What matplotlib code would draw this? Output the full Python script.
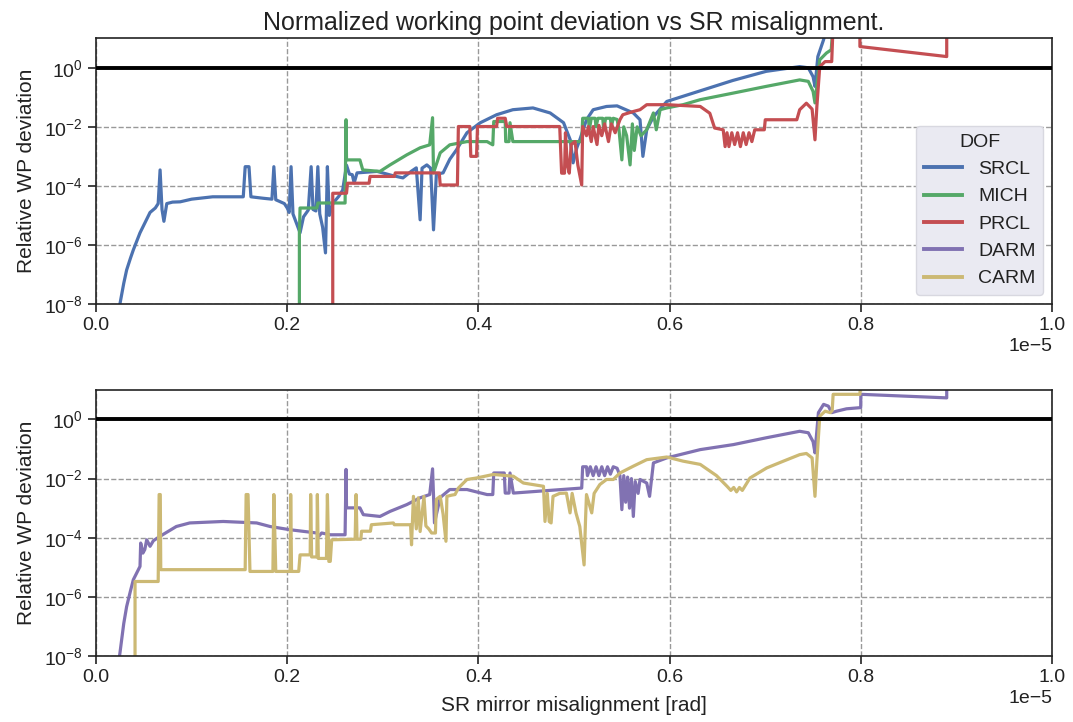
import numpy as np
import matplotlib
matplotlib.use("Agg")
import matplotlib.pyplot as plt
from matplotlib.lines import Line2D
from matplotlib.ticker import LogLocator, NullLocator

# values: x in units of 1e-5 rad, y as log10 of the relative deviation
srcl_x = [0.020, 0.025, 0.029, 0.032, 0.036, 0.039, 0.046, 0.0565, 0.062, 0.065, 0.067, 0.069, 0.071, 0.074,
          0.080, 0.088, 0.100, 0.122, 0.154, 0.156, 0.160, 0.162, 0.175, 0.184, 0.186, 0.188, 0.197, 0.200,
          0.202, 0.204, 0.206, 0.2134, 0.217, 0.222, 0.225, 0.227, 0.230, 0.232, 0.234, 0.237, 0.240, 0.242,
          0.244, 0.248, 0.254, 0.258, 0.262, 0.265, 0.268, 0.270, 0.273, 0.294, 0.310, 0.321, 0.330, 0.335,
          0.339, 0.341, 0.346, 0.350, 0.353, 0.356, 0.363, 0.370, 0.377, 0.388, 0.402, 0.419, 0.436, 0.457,
          0.475, 0.489, 0.496, 0.499, 0.503, 0.506, 0.513, 0.520, 0.534, 0.545, 0.562, 0.569, 0.572, 0.576,
          0.583, 0.597, 0.632, 0.666, 0.701, 0.736, 0.745, 0.750, 0.752, 0.755, 0.761, 0.765]
srcl_e = [-9, -8.0, -7.3, -6.85, -6.45, -6.17, -5.59, -4.9, -4.75, -4.6, -3.46, -4.8, -5.2, -4.6,
          -4.55, -4.54, -4.45, -4.37, -4.37, -3.35, -3.35, -4.37, -4.42, -4.45, -3.35, -4.47, -4.6, -4.75,
          -4.9, -3.35, -4.95, -5.59, -5.05, -4.82, -3.35, -4.8, -4.85, -3.35, -4.95, -5.4, -6.27, -3.35,
          -5.0, -4.58, -4.35, -4.14, -3.3, -3.6, -3.62, -3.9, -3.56, -3.51, -3.65, -3.73, -3.5, -3.39,
          -5.15, -3.4, -3.29, -3.4, -5.49, -3.6, -3.56, -3.1, -2.78, -2.2, -1.86, -1.59, -1.42, -1.36,
          -1.53, -1.86, -2.44, -3.22, -2.7, -2.44, -1.76, -1.42, -1.31, -1.29, -1.53, -1.76, -3.0, -2.1,
          -1.66, -1.14, -0.78, -0.43, -0.12, 0.04, 0.0, -0.3, -0.63, 0.38, 0.95, 1.5]

mich_x = [0.2127, 0.2127, 0.2134, 0.231, 0.232, 0.2605, 0.2615, 0.262, 0.276, 0.279, 0.297, 0.3075, 0.325,
          0.339, 0.349, 0.352, 0.353, 0.360, 0.370, 0.388, 0.409, 0.415, 0.416, 0.428, 0.4285, 0.432, 0.433,
          0.436, 0.508, 0.509, 0.515, 0.516, 0.518, 0.522, 0.523, 0.525, 0.530, 0.531, 0.533, 0.538, 0.539,
          0.541, 0.545, 0.547, 0.550, 0.552, 0.555, 0.5586, 0.561, 0.563, 0.566, 0.570, 0.576, 0.583, 0.586,
          0.590, 0.597, 0.614, 0.632, 0.666, 0.701, 0.736, 0.745, 0.750, 0.752, 0.757, 0.764, 0.769, 0.771]
mich_e = [-9, -5.6, -4.75, -4.75, -4.58, -4.58, -1.76, -3.12, -3.12, -3.46, -3.51, -3.29, -2.95,
          -2.71, -2.61, -1.69, -3.56, -2.88, -2.61, -2.5, -2.5, -2.61, -1.82, -1.82, -2.5, -2.5, -1.86,
          -2.5, -2.5, -1.71, -1.71, -2.1, -1.71, -1.71, -2.0, -1.71, -1.71, -2.1, -1.71, -1.71, -2.0,
          -1.71, -1.75, -2.1, -3.12, -2.0, -2.3, -3.29, -1.9, -2.8, -2.0, -2.3, -2.1, -1.53, -2.1,
          -1.42, -1.36, -1.25, -1.08, -0.86, -0.63, -0.41, -0.46, -0.8, -1.19, 0.27, 0.5, 0.61, 1.5]

prcl_x = [0.2476, 0.2476, 0.262, 0.263, 0.2856, 0.2866, 0.312, 0.313, 0.359, 0.360, 0.378, 0.379, 0.391,
          0.392, 0.398, 0.399, 0.419, 0.420, 0.428, 0.4296, 0.485, 0.487, 0.490, 0.491, 0.493, 0.495, 0.497,
          0.501, 0.504, 0.508, 0.509, 0.513, 0.515, 0.518, 0.520, 0.524, 0.526, 0.529, 0.532, 0.536, 0.539,
          0.543, 0.548, 0.551, 0.562, 0.569, 0.576, 0.597, 0.632, 0.642, 0.647, 0.656, 0.658, 0.660, 0.662,
          0.665, 0.668, 0.671, 0.674, 0.677, 0.680, 0.683, 0.686, 0.689, 0.699, 0.700, 0.733, 0.736, 0.743,
          0.749, 0.752, 0.754, 0.757, 0.7626, 0.7695, 0.771, 0.799, 0.799, 0.8898, 0.8898]
prcl_e = [-9, -4.25, -4.25, -3.91, -3.91, -3.68, -3.68, -3.56, -3.56, -3.97, -3.97, -1.99, -1.99,
          -3.0, -3.0, -1.99, -1.99, -1.71, -1.71, -1.99, -1.99, -3.57, -3.57, -2.2, -3.3, -3.57, -2.6,
          -2.5, -3.3, -3.97, -1.99, -2.3, -1.99, -2.5, -1.99, -2.6, -1.95, -2.3, -1.9, -2.5, -1.9,
          -2.2, -1.76, -1.59, -1.48, -1.42, -1.25, -1.25, -1.31, -1.54, -2.04, -2.1, -2.67, -2.2, -2.67,
          -2.2, -2.6, -2.2, -2.67, -2.2, -2.6, -2.2, -2.5, -2.1, -2.1, -1.76, -1.76, -1.42, -1.2,
          -1.4, -2.44, -1.3, 0.04, 0.21, 0.21, 1.5, 1.5, 0.72, 0.38, 1.5]

darm_x = [0.020, 0.025, 0.029, 0.032, 0.036, 0.039, 0.046, 0.0467, 0.049, 0.051, 0.053, 0.0565, 0.060,
          0.067, 0.084, 0.098, 0.133, 0.168, 0.182, 0.203, 0.231, 0.233, 0.236, 0.245, 0.2605, 0.2615,
          0.262, 0.276, 0.2796, 0.297, 0.3075, 0.325, 0.339, 0.349, 0.352, 0.354, 0.360, 0.370, 0.388,
          0.409, 0.415, 0.416, 0.427, 0.428, 0.432, 0.433, 0.4365, 0.508, 0.509, 0.513, 0.514, 0.517,
          0.520, 0.523, 0.526, 0.529, 0.532, 0.535, 0.538, 0.541, 0.545, 0.548, 0.550, 0.552, 0.554,
          0.556, 0.558, 0.560, 0.562, 0.564, 0.567, 0.569, 0.576, 0.579, 0.583, 0.597, 0.632, 0.6667,
          0.701, 0.736, 0.745, 0.750, 0.752, 0.7556, 0.761, 0.766, 0.7695, 0.7747, 0.785, 0.7998, 0.800,
          0.8898, 0.8898]
darm_e = [-9, -7.9, -6.9, -6.33, -5.8, -5.42, -4.97, -4.18, -4.52, -4.4, -4.07, -4.29, -4.1,
          -3.95, -3.62, -3.5, -3.45, -3.5, -3.62, -3.73, -3.84, -3.95, -3.84, -3.9, -3.9, -1.69,
          -2.99, -2.99, -3.22, -3.28, -3.11, -2.88, -2.65, -2.54, -1.67, -3.5, -2.64, -2.37, -2.37,
          -2.54, -2.54, -1.81, -1.81, -2.49, -2.49, -1.81, -2.49, -2.32, -1.6, -1.6, -1.9, -1.6,
          -1.9, -1.6, -1.9, -1.6, -1.9, -1.6, -1.85, -1.6, -1.65, -1.9, -3.05, -1.9, -2.8,
          -1.95, -3.0, -2.0, -3.28, -2.1, -2.5, -2.03, -2.15, -2.6, -1.47, -1.3, -1.02, -0.85,
          -0.62, -0.4, -0.45, -0.75, -1.13, 0.23, 0.51, 0.45, 0.23, 0.28, 0.36, 0.4, 0.85,
          0.73, 1.5]

carm_x = [0.0408, 0.0408, 0.065, 0.066, 0.0672, 0.0677, 0.156, 0.157, 0.159, 0.161, 0.185, 0.186, 0.188,
          0.203, 0.2036, 0.2045, 0.212, 0.2134, 0.224, 0.2245, 0.2255, 0.231, 0.2315, 0.2325, 0.241, 0.242,
          0.2435, 0.245, 0.2465, 0.271, 0.272, 0.273, 0.277, 0.2777, 0.287, 0.288, 0.311, 0.312, 0.329,
          0.330, 0.332, 0.335, 0.337, 0.339, 0.343, 0.345, 0.348, 0.351, 0.355, 0.356, 0.360, 0.363, 0.366,
          0.367, 0.372, 0.3755, 0.379, 0.388, 0.398, 0.4156, 0.4365, 0.447, 0.468, 0.4696, 0.472, 0.474,
          0.476, 0.478, 0.485, 0.492, 0.4958, 0.498, 0.502, 0.506, 0.5105, 0.512, 0.513, 0.5185, 0.521,
          0.527, 0.534, 0.541, 0.548, 0.562, 0.576, 0.597, 0.614, 0.632, 0.649, 0.660, 0.664, 0.667,
          0.670, 0.673, 0.676, 0.684, 0.7015, 0.719, 0.736, 0.743, 0.749, 0.752, 0.754, 0.757, 0.7626,
          0.768, 0.770, 0.771, 0.799, 0.800]
carm_e = [-9, -5.48, -5.48, -2.54, -2.54, -5.08, -5.08, -2.54, -2.54, -5.14, -5.14, -2.54, -5.14,
          -5.14, -2.54, -5.14, -5.14, -4.58, -4.58, -2.54, -4.65, -4.65, -2.54, -4.7, -4.7, -2.54,
          -4.8, -4.8, -4.07, -4.05, -2.54, -4.05, -4.05, -3.78, -3.78, -3.56, -3.5, -3.56, -3.56,
          -4.24, -2.6, -3.7, -2.65, -3.79, -2.6, -3.6, -3.7, -3.84, -3.84, -2.7, -2.6, -3.2, -4.12,
          -2.6, -2.56, -2.54, -2.32, -2.03, -1.98, -1.86, -1.92, -2.15, -2.26, -3.45, -2.5, -3.45,
          -3.5, -2.6, -2.5, -2.49, -3.16, -2.5, -3.16, -3.62, -4.92, -3.4, -2.54, -3.16, -2.5,
          -2.2, -2.03, -2.03, -1.81, -1.58, -1.36, -1.27, -1.41, -1.52, -1.9, -2.26, -2.4, -2.3,
          -2.45, -2.3, -2.4, -1.98, -1.64, -1.41, -1.19, -1.15, -1.3, -2.6, -1.4, 0.11, 0.28,
          0.23, 0.3, 0.85, 0.85, 1.5]

dof_names = ["SRCL", "MICH", "PRCL", "DARM", "CARM"]
dof_colors = ["#4C72B0", "#55A868", "#C44E52", "#8172B2", "#CCB974"]

plt.rcParams['font.family'] = ['Liberation Sans', 'DejaVu Sans']
plt.rcParams['font.size'] = 14
plt.rcParams['axes.edgecolor'] = '#222222'
plt.rcParams['xtick.color'] = '#222222'
plt.rcParams['ytick.color'] = '#222222'
plt.rcParams['text.color'] = '#222222'
plt.rcParams['axes.labelcolor'] = '#222222'

fig = plt.figure(figsize=(10.73, 7.22), dpi=100)
ax1 = fig.add_axes([0.0895, 0.579, 0.891, 0.368])
ax2 = fig.add_axes([0.0895, 0.0914, 0.891, 0.3686])

def to_xy(xs, es):
    return np.array(xs) * 1e-5, 10.0 ** np.array(es)

series = {
    "SRCL": (srcl_x, srcl_e),
    "MICH": (mich_x, mich_e),
    "PRCL": (prcl_x, prcl_e),
    "DARM": (darm_x, darm_e),
    "CARM": (carm_x, carm_e),
}

for ax, names in [(ax1, ["SRCL", "MICH", "PRCL"]), (ax2, ["DARM", "CARM"])]:
    ax.axhline(1.0, color='black', lw=2.8, zorder=3)
    for n in names:
        x, y = to_xy(*series[n])
        ax.plot(x, y, color=dof_colors[dof_names.index(n)], lw=2.3, zorder=2)
    ax.set_yscale('log')
    ax.set_ylim(1e-8, 10)
    ax.set_xlim(0, 1e-5)
    ax.yaxis.set_major_locator(LogLocator(base=100.0, numticks=10))
    ax.yaxis.set_minor_locator(NullLocator())
    ax.grid(True, color='#999999', linestyle='--', linewidth=1.0)
    ax.tick_params(direction='out', length=6, width=1.2, labelsize=14, top=False, right=False)
    for sp in ax.spines.values():
        sp.set_linewidth(1.2)
    ax.set_ylabel("Relative WP deviation", fontsize=15, labelpad=6)
    ax.xaxis.get_offset_text().set_fontsize(14)

ax1.set_title("Normalized working point deviation vs SR misalignment.", fontsize=18, pad=6)
ax2.set_xlabel("SR mirror misalignment [rad]", fontsize=15, labelpad=7)

handles = [Line2D([], [], color=c, lw=2.8) for c in dof_colors]
leg = ax1.legend(handles, dof_names, title="DOF", loc='lower right', fontsize=14,
                 title_fontsize=14, frameon=True, facecolor='#EAEAF2', edgecolor='#D8D8E0',
                 framealpha=1.0, borderaxespad=0.45)
leg.set_zorder(5)

fig.savefig("out.png", dpi=100)
